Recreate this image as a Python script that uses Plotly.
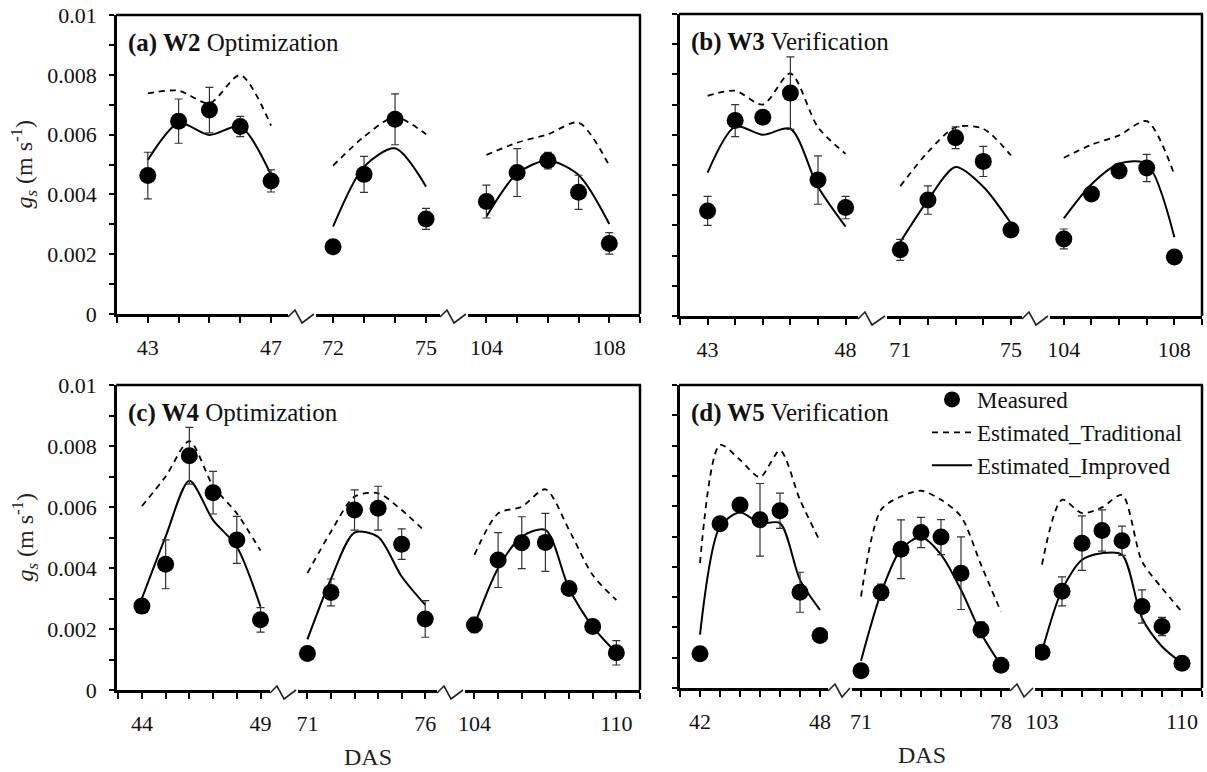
import plotly.graph_objects as go

# ---------------- data (gs, m s-1) ----------------
# Panel (a) W2 Optimization
A_DAYS = [[43, 44, 45, 46, 47], [72, 73, 74, 75], [104, 105, 106, 107, 108]]
A_MEAS = [[0.00463, 0.00645, 0.00682, 0.00627, 0.00445], [0.00225, 0.00467, 0.00651, 0.00318],
          [0.00376, 0.00473, 0.00513, 0.00407, 0.00236]]
A_ERR = [[0.00078, 0.00074, 0.00076, 0.00034, 0.00037], [0.0001, 0.0006, 0.00085, 0.00035],
         [0.00055, 0.0008, 0.00028, 0.00057, 0.00036]]
A_TRAD = [[0.00738, 0.00747, 0.00705, 0.00799, 0.00630], [0.00496, 0.00593, 0.00658, 0.00601],
          [0.00532, 0.00573, 0.00601, 0.00640, 0.00496]]
A_IMPR = [[0.00515, 0.00638, 0.00599, 0.00627, 0.00465], [0.00292, 0.00493, 0.00554, 0.00426],
          [0.00326, 0.00470, 0.00513, 0.00465, 0.00301]]

# Panel (b) W3 Verification
B_DAYS = [[43, 44, 45, 46, 47, 48], [71, 72, 73, 74, 75], [104, 105, 106, 107, 108]]
B_MEAS = [[0.00348, 0.00647, 0.00658, 0.00738, 0.00450, 0.00359], [0.00219, 0.00384, 0.00590, 0.00512, 0.00285],
          [0.00255, 0.00404, 0.00480, 0.00490, 0.00195]]
B_ERR = [[0.00048, 0.00053, 0.0001, 0.0012, 0.0008, 0.00037], [0.00035, 0.00047, 0.00036, 0.0005, 0.0001],
         [0.00033, 0.0001, 0.00015, 0.00045, 0.0001]]
B_TRAD = [[0.00729, 0.00746, 0.00700, 0.00803, 0.00625, 0.00537], [0.00430, 0.00543, 0.00625, 0.00620, 0.00532],
          [0.00524, 0.00567, 0.00598, 0.00645, 0.00468]]
B_IMPR = [[0.00475, 0.00627, 0.00600, 0.00620, 0.00428, 0.00296], [0.00245, 0.00384, 0.00493, 0.00428, 0.00307],
          [0.00323, 0.00436, 0.00504, 0.00504, 0.00261]]

# Panel (c) W4 Optimization
C_DAYS = [[44, 45, 46, 47, 48, 49], [71, 72, 73, 74, 75, 76], [104, 105, 106, 107, 108, 109, 110]]
C_MEAS = [[0.00275, 0.00412, 0.00768, 0.00647, 0.00492, 0.00230],
          [0.00120, 0.00320, 0.00590, 0.00596, 0.00478, 0.00233],
          [0.00213, 0.00426, 0.00483, 0.00484, 0.00333, 0.00208, 0.00122]]
C_ERR = [[0.00023, 0.0008, 0.00093, 0.0007, 0.00077, 0.0004],
         [0.0001, 0.00044, 0.00066, 0.00072, 0.0005, 0.0006],
         [0.00025, 0.0009, 0.00085, 0.00095, 0.0001, 0.0002, 0.0004]]
C_TRAD = [[0.00603, 0.00700, 0.00816, 0.00669, 0.00579, 0.00457],
          [0.00383, 0.00519, 0.00634, 0.00645, 0.00590, 0.00519],
          [0.00443, 0.00579, 0.00601, 0.00658, 0.00525, 0.00377, 0.00295]]
C_IMPR = [[0.00300, 0.00503, 0.00686, 0.00557, 0.00470, 0.00273],
          [0.00166, 0.00364, 0.00516, 0.00502, 0.00372, 0.00279],
          [0.00213, 0.00399, 0.00503, 0.00525, 0.00333, 0.00208, 0.00122]]

# Panel (d) W5 Verification
D_DAYS = [[42, 43, 44, 45, 46, 47, 48], [71, 72, 73, 74, 75, 76, 77, 78],
          [103, 104, 105, 106, 107, 108, 109, 110]]
D_MEAS = [[0.00113, 0.00542, 0.00604, 0.00555, 0.00585, 0.00316, 0.00173],
          [0.00057, 0.00316, 0.00458, 0.00513, 0.00498, 0.00379, 0.00192, 0.00075],
          [0.00118, 0.00319, 0.00478, 0.00520, 0.00486, 0.00269, 0.00203, 0.00082]]
D_ERR = [[0.0001, 0.0001, 0.0001, 0.0012, 0.00058, 0.00066, 0.0001],
         [0.0001, 0.00027, 0.00097, 0.0005, 0.00058, 0.0012, 0.00026, 0.0001],
         [0.0001, 0.00048, 0.0009, 0.00068, 0.00048, 0.00055, 0.0003, 0.0001]]
D_TRAD = [[0.00412, 0.00802, 0.00753, 0.00696, 0.00784, 0.00621, 0.00484],
          [0.00302, 0.00588, 0.00632, 0.00651, 0.00621, 0.00566, 0.00407, 0.00251],
          [0.00407, 0.00621, 0.00577, 0.00596, 0.00637, 0.00418, 0.00330, 0.00251]]
D_IMPR = [[0.00176, 0.00533, 0.00579, 0.00544, 0.00544, 0.00357, 0.00258],
          [0.00090, 0.00313, 0.00458, 0.00498, 0.00440, 0.00324, 0.00181, 0.00075],
          [0.00121, 0.00324, 0.00423, 0.00445, 0.00440, 0.00231, 0.00137, 0.00082]]

Y_TICKS = [0, 0.001, 0.002, 0.003, 0.004, 0.005, 0.006, 0.007, 0.008, 0.009, 0.01]
Y_LABELS = ["0", "", "0.002", "", "0.004", "", "0.006", "", "0.008", "", "0.01"]

PANEL_TITLES = ["<b>(a) W2</b> Optimization", "<b>(b) W3</b> Verification",
                "<b>(c) W4</b> Optimization", "<b>(d) W5</b> Verification"]

# ---------------- layout geometry (pixels) ----------------
W, H = 1207, 772
FONT = "Liberation Serif"


def px(x):
    return x / W


def py(y):
    return 1 - y / H


panels = [
    dict(days=A_DAYS, meas=A_MEAS, err=A_ERR, trad=A_TRAD, impr=A_IMPR, ylabels=True,
         xdom=[(117, 288), (316, 440), (468, 640)],
         xr=[(42, 47.55), (71.45, 75.45), (103.4, 109)], ydom=(15, 314)),
    dict(days=B_DAYS, meas=B_MEAS, err=B_ERR, trad=B_TRAD, impr=B_IMPR, ylabels=False,
         xdom=[(680, 858), (887, 1022), (1050, 1202)],
         xr=[(42, 48.45), (70.52, 75.4), (103.5, 109)], ydom=(14, 316)),
    dict(days=C_DAYS, meas=C_MEAS, err=C_ERR, trad=C_TRAD, impr=C_IMPR, ylabels=True,
         xdom=[(117, 270), (298, 437), (465, 640)],
         xr=[(42.95, 49.4), (70.6, 76.5), (103.6, 111)], ydom=(385, 690)),
    dict(days=D_DAYS, meas=D_MEAS, err=D_ERR, trad=D_TRAD, impr=D_IMPR, ylabels=False,
         xdom=[(680, 828), (852, 1010), (1035, 1202)],
         xr=[(41, 48.4), (70.55, 78.45), (102.65, 111)], ydom=(385, 688)),
]

fig = go.Figure()
layout = dict(
    width=W, height=H, margin=dict(l=0, r=0, t=0, b=0, pad=0, autoexpand=False),
    paper_bgcolor="white", plot_bgcolor="white",
    font=dict(family=FONT, size=21, color="black"),
    showlegend=True,
    legend=dict(x=px(927), y=py(378), xanchor="left", yanchor="top",
                bgcolor="rgba(0,0,0,0)", font=dict(family=FONT, size=23, color="#111"),
                itemwidth=40, tracegroupgap=0),
)
shapes = []
annotations = []

AXIS_W = 2.5
for i, p in enumerate(panels):
    yname = f"y{i + 1}"
    ytop, ybot = p["ydom"]
    layout[f"yaxis{i + 1}"] = dict(
        domain=[py(ybot), py(ytop)], range=[0, 0.01], anchor=f"x{3 * i + 1}",
        showgrid=False, zeroline=False, showline=True, linecolor="black", linewidth=AXIS_W,
        ticks="outside", ticklen=5, tickwidth=2, tickcolor="black", automargin=False,
        tickvals=Y_TICKS, ticktext=Y_LABELS if p["ylabels"] else [""] * len(Y_TICKS),
        tickfont=dict(family=FONT, size=22, color="#111"), ticklabelstandoff=8,
    )
    for j in range(3):
        n = 3 * i + j + 1
        x0, x1 = p["xdom"][j]
        r0, r1 = p["xr"][j]
        days = p["days"][j]
        tv = list(range(int(-(-r0 // 1)), int(r1 // 1) + 1))
        tt = [str(v) if v in (days[0], days[-1]) else "" for v in tv]
        layout[f"xaxis{n}"] = dict(
            domain=[px(x0), px(x1)], range=[r0, r1], anchor=yname,
            showgrid=False, zeroline=False, showline=True, linecolor="black", linewidth=AXIS_W,
            ticks="outside", ticklen=6, tickwidth=2, tickcolor="black", automargin=False,
            tickvals=tv, ticktext=tt, tickfont=dict(family=FONT, size=22, color="#111"),
            ticklabelstandoff=6,
        )
        first = (i == 0 and j == 0)
        fig.add_trace(go.Scatter(
            x=days, y=p["trad"][j], mode="lines", xaxis=f"x{n}", yaxis=yname,
            line=dict(color="black", width=1.8, dash="6px,5px", shape="spline", smoothing=0.8),
            name="Estimated_Traditional", showlegend=first, legendrank=2))
        fig.add_trace(go.Scatter(
            x=days, y=p["impr"][j], mode="lines", xaxis=f"x{n}", yaxis=yname,
            line=dict(color="black", width=2, shape="spline", smoothing=0.8),
            name="Estimated_Improved", showlegend=first, legendrank=3))
        fig.add_trace(go.Scatter(
            x=days, y=p["meas"][j], mode="markers", xaxis=f"x{n}", yaxis=yname,
            marker=dict(color="black", size=17, symbol="circle"),
            error_y=dict(type="data", array=p["err"][j], visible=True, color="#333",
                         thickness=1.2, width=4),
            name="Measured", showlegend=first, legendrank=1))
        # axis break mark
        if j < 2:
            e = p["xdom"][j][1]
            s = p["xdom"][j + 1][0]
            Y = ybot
            pts = [(e, Y + 3), (e + 7, Y - 4), (e + 14, Y + 9), (s - 2, Y)]
            path = "M " + " L ".join(f"{px(a):.5f},{py(b):.5f}" for a, b in pts)
            shapes.append(dict(type="path", xref="paper", yref="paper", path=path,
                               line=dict(color="#222", width=1.6)))
    # top and right frame
    left = p["xdom"][0][0]
    right = p["xdom"][2][1]
    shapes.append(dict(type="line", xref="paper", yref="paper",
                       x0=px(left - 1), x1=px(right + 1), y0=py(ytop), y1=py(ytop),
                       line=dict(color="black", width=AXIS_W)))
    shapes.append(dict(type="line", xref="paper", yref="paper",
                       x0=px(right), x1=px(right), y0=py(ytop), y1=py(ybot),
                       line=dict(color="black", width=AXIS_W)))
    # panel title
    annotations.append(dict(text=PANEL_TITLES[i], xref="paper", yref="paper",
                            x=px(left + 9), y=py(ytop + 28), xanchor="left", yanchor="middle",
                            showarrow=False, font=dict(family=FONT, size=25, color="#111")))
    if p["ylabels"]:
        annotations.append(dict(text="<i>g<sub>s</sub></i> (m s<sup>-1</sup>)", xref="paper",
                                yref="paper", x=px(24), y=py((ytop + ybot) / 2), textangle=-90,
                                xanchor="center", yanchor="middle", showarrow=False,
                                font=dict(family=FONT, size=24, color="#222")))

annotations.append(dict(text="DAS", xref="paper", yref="paper", x=px(368), y=py(757),
                        xanchor="center", yanchor="middle",
                        showarrow=False, font=dict(family=FONT, size=24, color="#222")))
annotations.append(dict(text="DAS", xref="paper", yref="paper", x=px(922), y=py(755),
                        xanchor="center", yanchor="middle",
                        showarrow=False, font=dict(family=FONT, size=24, color="#222")))

layout["shapes"] = shapes
layout["annotations"] = annotations
fig.update_layout(**layout)
fig.write_html("out.html")
